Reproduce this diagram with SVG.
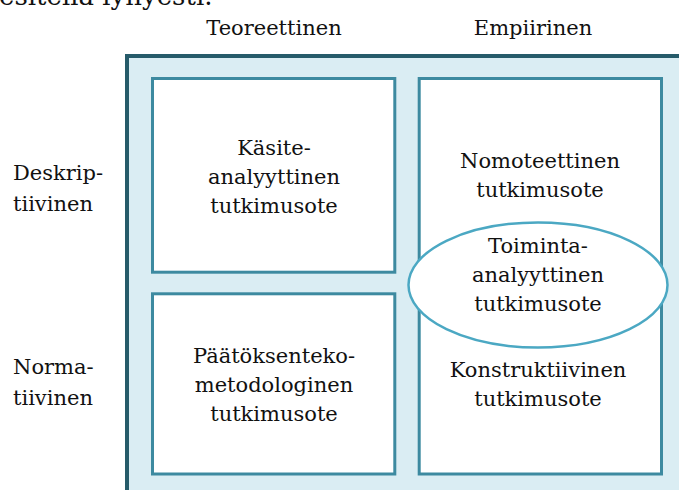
<svg xmlns="http://www.w3.org/2000/svg" width="679" height="490" viewBox="0 0 679 490">
<style>
text{font-family:"DejaVu Serif","Liberation Serif",serif;font-size:21px;fill:#111}
.c{text-anchor:middle}
.box{fill:#fff;stroke:#3d8aa0;stroke-width:3}
</style>
<rect width="679" height="490" fill="#fff"/>
<text x="-1" y="5" style="font-size:26px">esitellä lyhyesti.</text>
<text class="c" x="274" y="35">Teoreettinen</text>
<text class="c" x="533" y="35">Empiirinen</text>
<text x="13" y="180">Deskrip-</text>
<text x="13" y="211">tiivinen</text>
<text x="13" y="374">Norma-</text>
<text x="13" y="405">tiivinen</text>
<g id="frame"><rect x="127" y="56" width="600" height="500" fill="#daedf3" stroke="#265b6a" stroke-width="4"/></g>
<g id="kasite">
<rect class="box" x="152.5" y="78.5" width="242.3" height="193.7"/>
<text class="c" x="274" y="155">Käsite-</text>
<text class="c" x="274" y="184">analyyttinen</text>
<text class="c" x="274" y="213">tutkimusote</text>
</g>
<g id="paatoksenteko">
<rect class="box" x="152.5" y="293.8" width="242.3" height="180.2"/>
<text class="c" x="274" y="363">Päätöksenteko-</text>
<text class="c" x="274" y="392">metodologinen</text>
<text class="c" x="274" y="421">tutkimusote</text>
</g>
<g id="nomoteettinen">
<rect class="box" x="419.2" y="78.5" width="242.3" height="193.7"/>
<text class="c" x="540" y="168">Nomoteettinen</text>
<text class="c" x="540" y="197">tutkimusote</text>
</g>
<g id="konstruktiivinen">
<rect class="box" x="419.2" y="293.8" width="242.3" height="180.2"/>
<text class="c" x="538" y="377">Konstruktiivinen</text>
<text class="c" x="538" y="406">tutkimusote</text>
</g>
<g id="toiminta">
<ellipse cx="538" cy="285" rx="129.5" ry="62.5" fill="#fff" stroke="#4ba8c3" stroke-width="2.5"/>
<text class="c" x="538" y="253">Toiminta-</text>
<text class="c" x="538" y="282">analyyttinen</text>
<text class="c" x="538" y="311">tutkimusote</text>
</g>
<g id="connectors"/>
</svg>
